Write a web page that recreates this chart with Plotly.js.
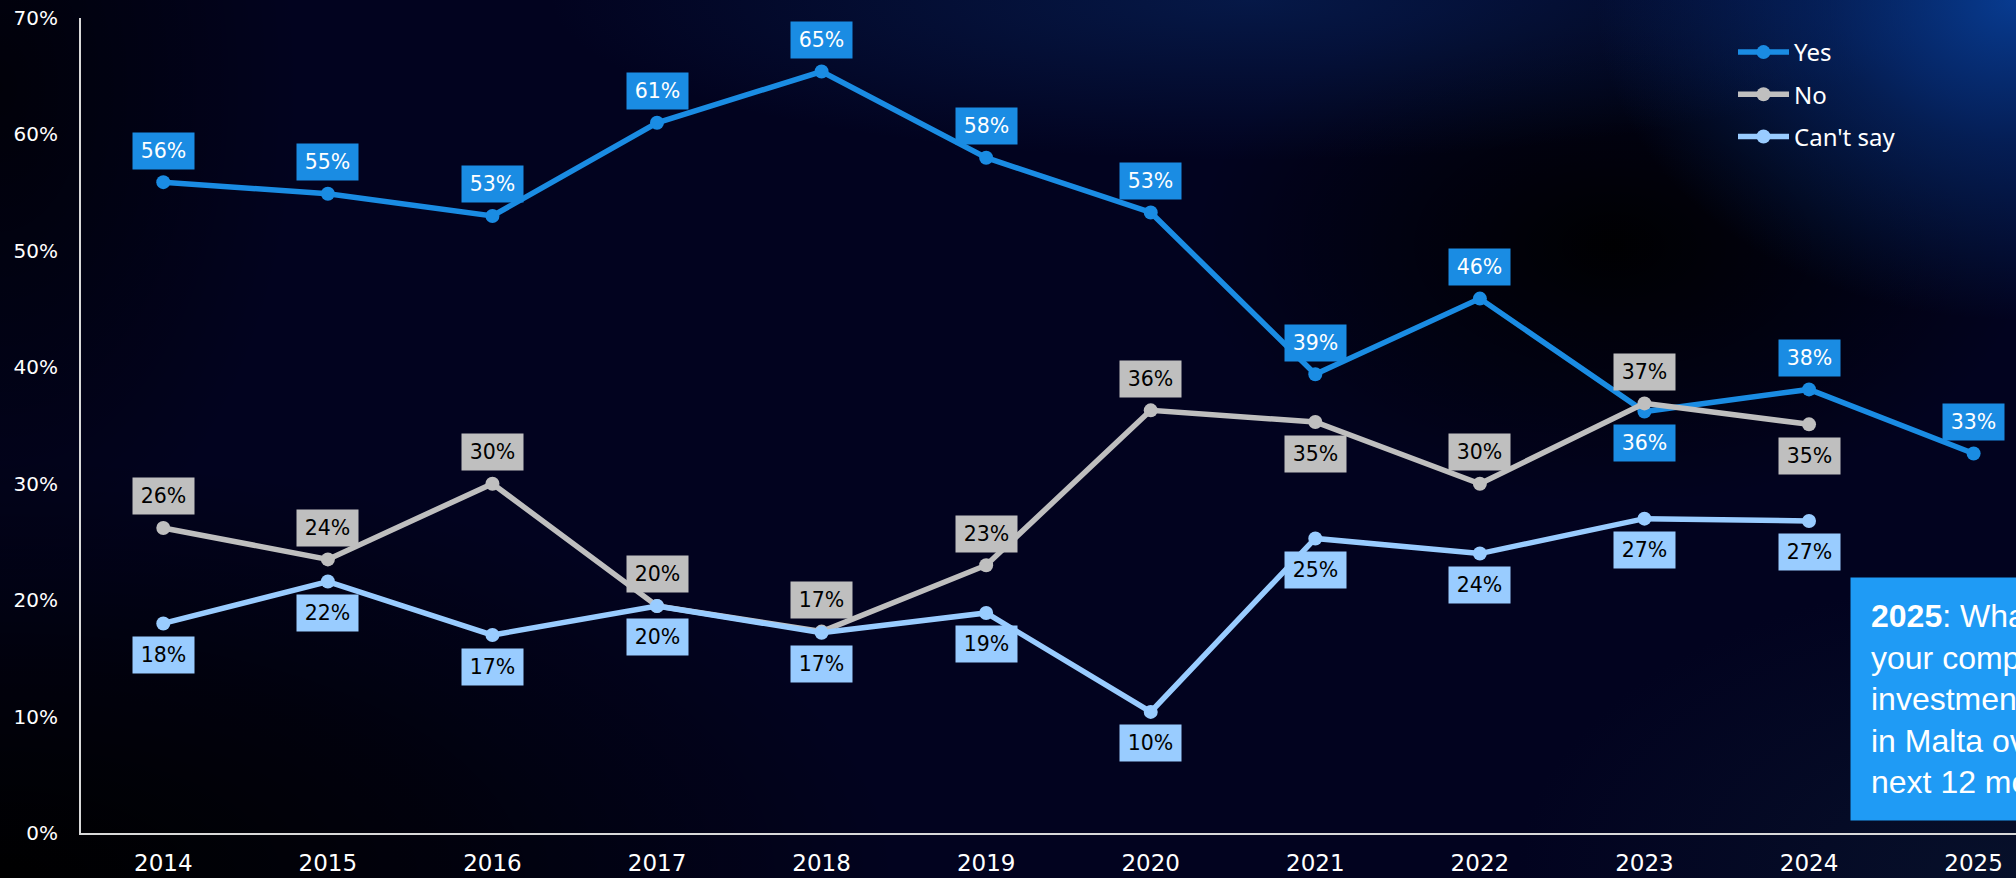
<!DOCTYPE html>
<html>
<head>
<meta charset="utf-8">
<script src="https://cdn.plot.ly/plotly-3.0.1.min.js"></script>
<style>
html, body { margin:0; padding:0; width:2016px; height:878px; overflow:hidden; }
body {
  background-color:#02031f;
  background-image:
    radial-gradient(ellipse 420px 320px at 100% 0%, rgba(8,62,150,0.95) 0%, rgba(8,62,150,0.45) 45%, rgba(8,62,150,0) 100%),
    radial-gradient(ellipse 700px 160px at 62% 0%, rgba(10,50,120,0.45) 0%, rgba(10,50,120,0) 100%),
    radial-gradient(ellipse 420px 260px at 80% 28%, rgba(0,0,0,0.95) 0%, rgba(0,0,0,0) 100%),
    radial-gradient(ellipse 900px 420px at 0% 100%, rgba(0,0,0,1) 0%, rgba(0,0,0,0.6) 50%, rgba(0,0,0,0) 100%),
    radial-gradient(ellipse 300px 500px at 0% 10%, rgba(0,0,0,0.7) 0%, rgba(0,0,0,0) 100%),
    radial-gradient(ellipse 500px 300px at 100% 100%, rgba(10,25,50,0.6) 0%, rgba(10,25,50,0) 100%);
}
#chart { width:2016px; height:878px; }
</style>
</head>
<body>
<div id="chart"></div>
<script>
// ---- data ----
const years = ['2014','2015','2016','2017','2018','2019','2020','2021','2022','2023','2024','2025'];
const seriesNames = ['Yes','No',"Can't say"];
const yesValues = [55.9, 54.9, 53.0, 61.0, 65.4, 58.0, 53.3, 39.4, 45.9, 36.2, 38.1, 32.6];
const noValues = [26.2, 23.5, 30.0, 19.5, 17.3, 23.0, 36.3, 35.3, 30.0, 36.9, 35.1, null];
const cantSayValues = [18.0, 21.6, 17.0, 19.5, 17.2, 18.9, 10.4, 25.3, 24.0, 27.0, 26.8, null];
const yTickValues = [0, 10, 20, 30, 40, 50, 60, 70];
const noteText = '<b>2025</b>: What are<br>your company\'s<br>investment plans<br>in Malta over the<br>next 12 months?';

// ---- styles ----
const colors = ['#1a8ce3', '#bfbfbf', '#99ccff'];
const labelFontColors = ['#ffffff', '#000000', '#000000'];
// +1 = label above point, -1 = below
const labelSides = [
  [1,1,1,1,1,1,1,1,1,-1,1,1],
  [1,1,1,1,1,1,1,-1,1,1,-1,1],
  [-1,-1,-1,-1,-1,-1,-1,-1,-1,-1,-1,-1]
];
const FONT = '"Noto Sans", "Open Sans", sans-serif';
const AXFONT = '"DejaVu Sans", Verdana, sans-serif';
const allValues = [yesValues, noValues, cantSayValues];

const traces = allValues.map((vals, s) => ({
  type: 'scatter',
  mode: 'lines+markers',
  name: seriesNames[s],
  legendgroup: 'g' + s,
  x: years,
  y: vals,
  line: {color: colors[s], width: 5.5},
  marker: {color: colors[s], size: 14},
  connectgaps: false,
  hoverinfo: 'skip'
}));

const annotations = [];
allValues.forEach((vals, s) => {
  vals.forEach((v, i) => {
    if (v === null || v === undefined) return;
    annotations.push({
      x: i, y: v, xref: 'x', yref: 'y',
      text: Math.round(v) + '%',
      showarrow: false,
      yshift: labelSides[s][i] * 31.5,
      bgcolor: colors[s],
      borderpad: 3,
      width: 55, height: 30,
      font: {family: AXFONT, size: 20.5, color: labelFontColors[s]}
    });
  });
});

annotations.push({
  xref: 'paper', yref: 'paper',
  x: (1850 - 81) / 1935, y: (833 - 577) / 815,
  xanchor: 'left', yanchor: 'top', align: 'left',
  text: noteText,
  showarrow: false,
  bgcolor: '#1f9bf5',
  borderpad: 20,
  font: {family: '"Liberation Sans", Arial, sans-serif', size: 32, color: '#ffffff'}
});

const layout = {
  width: 2016, height: 878,
  margin: {l: 81, r: 0, t: 18, b: 45, autoexpand: false},
  paper_bgcolor: 'rgba(0,0,0,0)',
  plot_bgcolor: 'rgba(0,0,0,0)',
  showlegend: true,
  legend: {
    x: (1733 - 81) / 1935, y: (833 - 30) / 815,
    xanchor: 'left', yanchor: 'top',
    bgcolor: 'rgba(0,0,0,0)',
    font: {family: FONT, size: 24, color: '#ffffff'},
    tracegroupgap: 8,
    itemwidth: 51
  },
  xaxis: {
    type: 'category',
    range: [-0.5, (2016 - 163) / 164.6],
    showgrid: false, zeroline: false,
    showline: true, linecolor: '#d9d9d9', linewidth: 2,
    ticks: 'outside', ticklen: 8, tickcolor: 'rgba(0,0,0,0)',
    tickfont: {family: AXFONT, size: 23, color: '#ffffff'},
    fixedrange: true
  },
  yaxis: {
    range: [0, 70],
    tickvals: yTickValues,
    ticktext: yTickValues.map(v => v + '%'),
    showgrid: false, zeroline: false,
    showline: true, linecolor: '#d9d9d9', linewidth: 2,
    ticks: 'outside', ticklen: 17, tickcolor: 'rgba(0,0,0,0)',
    tickfont: {family: AXFONT, size: 20, color: '#ffffff'},
    fixedrange: true
  },
  annotations: annotations,
  hovermode: false
};

Plotly.newPlot('chart', traces, layout, {displayModeBar: false, staticPlot: true});
</script>
</body>
</html>
